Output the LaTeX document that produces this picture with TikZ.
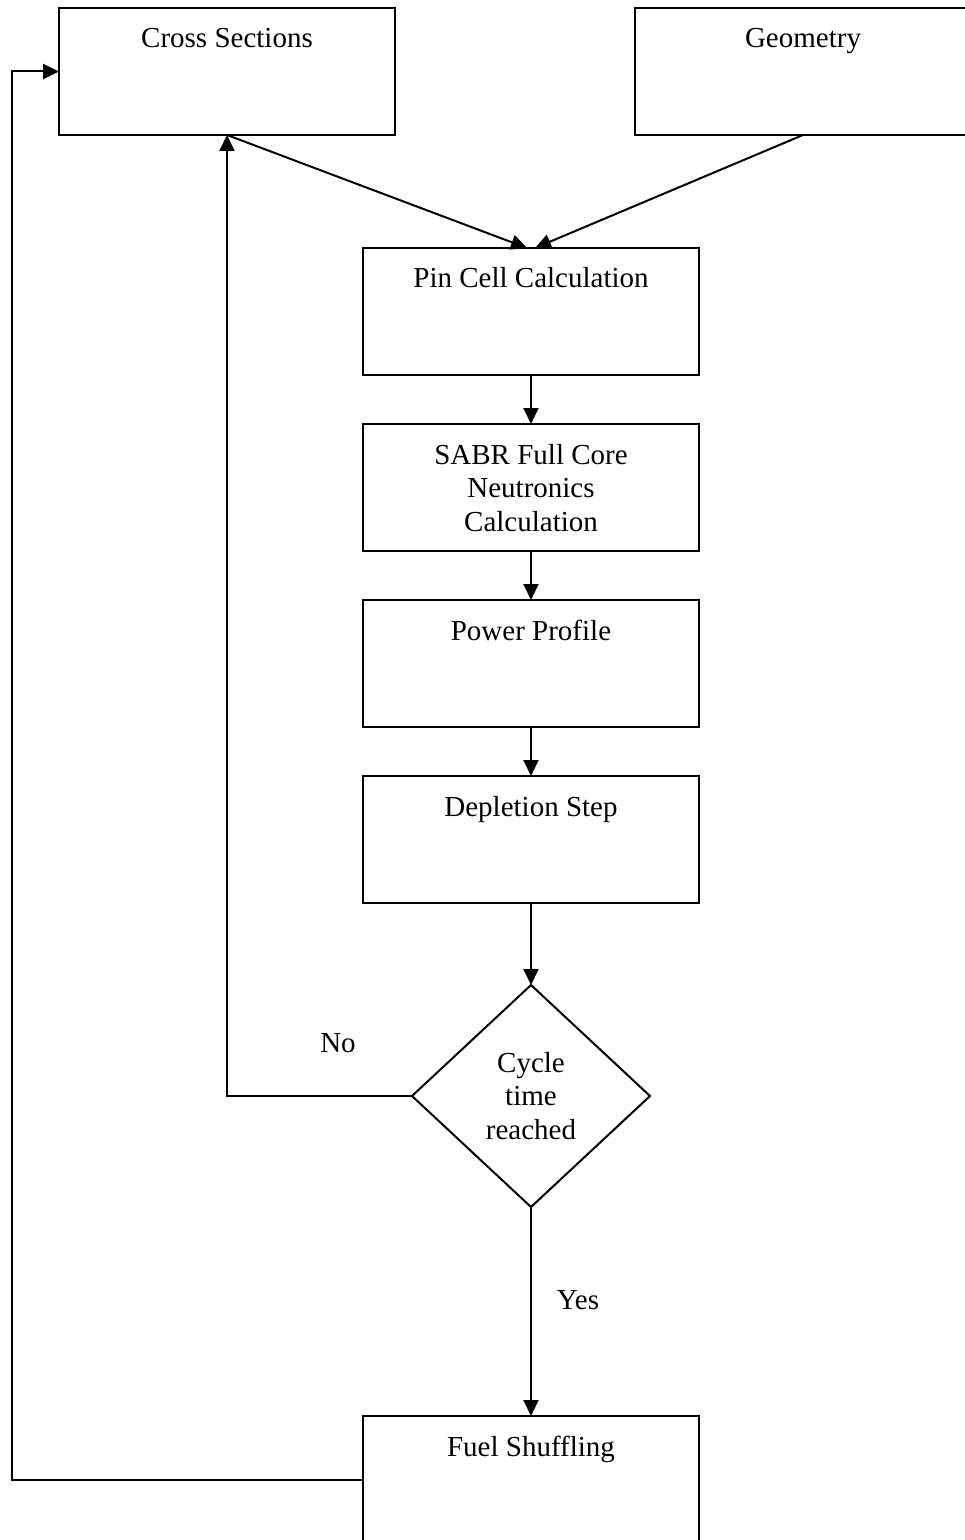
\documentclass[tikz,border=0pt]{standalone}
\usepackage{fontspec}
\setmainfont{Liberation Serif}
\usetikzlibrary{arrows.meta,shapes.geometric,calc}
\tikzset{
  stepbox/.style ={draw,line width=1pt,inner sep=0pt,outer sep=0pt,anchor=north,
                   minimum width=168pt,align=center,
                   text height=20pt,text depth=43.5pt},
  decide/.style  ={draw,diamond,line width=1pt,inner sep=0pt,outer sep=0pt,
                   minimum width=119pt,minimum height=111pt,align=center},
  lbl/.style     ={inner sep=0pt},
  ar/.style      ={-{Triangle[length=8pt,width=7.5pt]},line width=1pt},
}
\begin{document}
\begin{tikzpicture}[x=0.5pt,y=-0.5pt,
  every node/.style={font=\fontsize{14.5pt}{16.75pt}\selectfont}]
\useasboundingbox[fill=white] (0,0) rectangle (964,1540);
% boxes
\node[stepbox] (cross) at (227,8) {Cross Sections};
\node[stepbox] (geom) at (803,8) {Geometry};
\node[stepbox] (pin) at (531,248) {Pin Cell Calculation};
\node[stepbox,text height=53.5pt,text depth=10pt] (sabr) at (531,424)
  {SABR Full Core\\Neutronics\\Calculation};
\node[stepbox] (power) at (531,600) {Power Profile};
\node[stepbox] (depl) at (531,776) {Depletion Step};
\node[decide] (cycle) at (531,1096) {Cycle\\time\\reached};
\node[stepbox] (fuel) at (531,1416) {Fuel Shuffling};
\coordinate (loopx) at (12,0);
% labels
\node[lbl] (no) at (338,1043) {No};
\node[lbl] (yes) at (578,1300) {Yes};
% connectors
\draw[ar] (cross.south) -- ($(pin.north)+(-4,0)$);
\draw[ar] (geom.south) -- ($(pin.north)+(4,0)$);
\draw[ar] (pin) -- (sabr);
\draw[ar] (sabr) -- (power);
\draw[ar] (power) -- (depl);
\draw[ar] (depl) -- (cycle);
\draw[ar] (cycle) -- (fuel);
\draw[ar] (cycle.west) -| (cross.south);
\draw[ar] (fuel.west) -- (fuel.west -| loopx) |- (cross.west);
\end{tikzpicture}
\end{document}
